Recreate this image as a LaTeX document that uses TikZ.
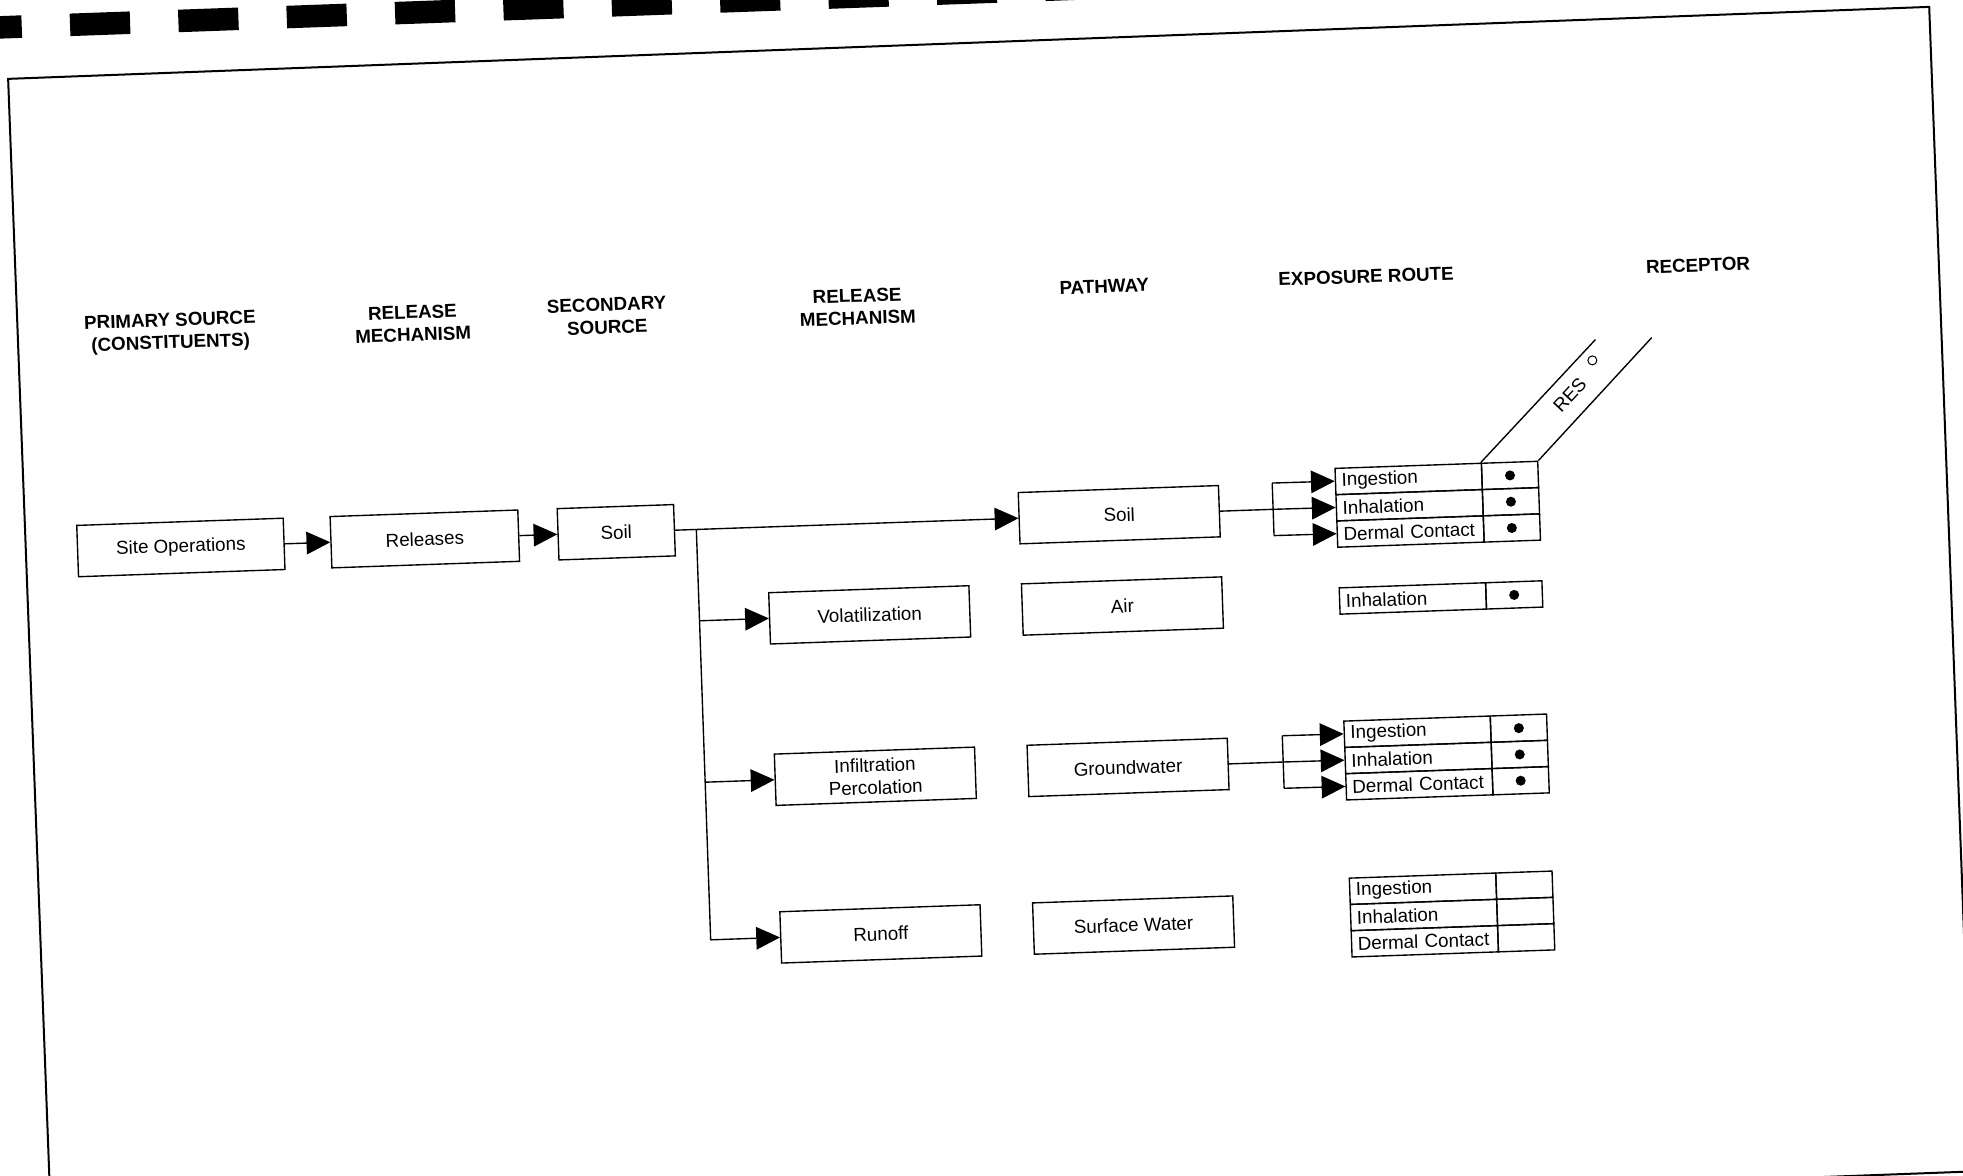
\documentclass[tikz,border=0pt]{standalone}
\usepackage{fontspec}
\setmainfont{Liberation Sans}
\usetikzlibrary{arrows.meta}
\begin{document}
\begin{tikzpicture}[x=1pt,y=-1pt,
  box/.style={draw, line width=1.1pt, minimum height=41pt, inner sep=2pt, font=\fontsize{15}{18}\selectfont, align=center},
  hdr/.style={font=\fontsize{15}{18}\selectfont\bfseries, align=center, inner sep=0pt},
  arr/.style={line width=1.1pt, -{Triangle[length=19pt,width=18pt]}},
  ln/.style={line width=1.1pt},
  lab/.style={draw, line width=1.1pt, anchor=north west, text width=107pt, inner xsep=5pt, inner ysep=0pt, minimum height=21pt, align=left, font=\fontsize{15}{18}\selectfont},
  dotc/.style={draw, line width=1.1pt, anchor=north west, minimum width=45pt, minimum height=21pt, inner sep=0pt},
  dotmark/.style={fill=black},
]
\useasboundingbox (0,0) rectangle (1568,939);
\clip (0,0) rectangle (1568,939);
% page frame
\draw[line width=1.6pt] (41.4,993) -- (6.5,63) -- (1541,5.5) -- (1575.9,935.7) -- cycle;
% heavy dashes at top
\draw[line width=18pt, dash pattern=on 48pt off 38.6pt, dash phase=77.2pt] (-40,23.3) -- (900,-10.5);

\begin{scope}[rotate around={2:(784,470)}, transform shape]
% headers
\node[hdr] (h1) at (143.6,243.4) {PRIMARY SOURCE\\(CONSTITUENTS)};
\node[hdr] (h2) at (337.4,242.7) {RELEASE\\MECHANISM};
\node[hdr] (h3) at (492.6,242.1) {SECONDARY\\SOURCE};
\node[hdr] (h4) at (692.8,242) {RELEASE\\MECHANISM};
\node[hdr] (h5) at (890.4,232.4) {PATHWAY};
\node[hdr] (h6) at (1099.7,231.7) {EXPOSURE ROUTE};
\node[hdr] (h7) at (1365,232) {RECEPTOR};

% boxes
\node[box, minimum width=165pt] (siteops) at (146,415) {Site Operations};
\node[box, minimum width=150pt] (releases) at (341,415) {Releases};
\node[box, minimum width=93pt] (soil1) at (494,415) {Soil};
\node[box, minimum width=160pt] (soil2) at (896,415) {Soil};
\node[box, minimum width=160pt] (vol) at (694,488) {Volatilization};
\node[box, minimum width=160pt] (air) at (896,488) {Air};
\node[box, minimum width=160pt] (inf) at (694,617) {Infiltration\\Percolation};
\node[box, minimum width=160pt] (gw) at (896,617) {Groundwater};
\node[box, minimum width=160pt] (run) at (694,743) {Runoff};
\node[box, minimum width=160pt] (sw) at (896,743) {Surface Water};

% exposure table 1
\node[lab] (t1a) at (1069,383.5) {Ingestion};
\node[lab] (t1b) at (1069,404.5) {Inhalation};
\node[lab] (t1c) at (1069,425.5) {Dermal Contact};
\node[dotc] (d1a) at (1186,383.5) {};
\node[dotc] (d1b) at (1186,404.5) {};
\node[dotc] (d1c) at (1186,425.5) {};
% exposure single row
\node[lab] (t2a) at (1069,479) {Inhalation};
\node[dotc] (d2a) at (1186,479) {};
% exposure table 3
\node[lab] (t3a) at (1069,585.5) {Ingestion};
\node[lab] (t3b) at (1069,606.5) {Inhalation};
\node[lab] (t3c) at (1069,627.5) {Dermal Contact};
\node[dotc] (d3a) at (1186,585.5) {};
\node[dotc] (d3b) at (1186,606.5) {};
\node[dotc] (d3c) at (1186,627.5) {};
% exposure table 4
\node[lab] (t4a) at (1069,711) {Ingestion};
\node[lab] (t4b) at (1069,732) {Inhalation};
\node[lab] (t4c) at (1069,753) {Dermal Contact};
\node[dotc] (d4a) at (1186,711) {};
\node[dotc] (d4b) at (1186,732) {};
\node[dotc] (d4c) at (1186,753) {};

% dots
\foreach \d in {d1a,d1b,d1c,d2a,d3a,d3b,d3c}
  \fill[dotmark] (\d) circle (4pt);

% receptor band
\coordinate (r1) at (1281,288.5);
\coordinate (r2) at (1326,288.5);
\draw[ln] (d1a.north west) -- (r1);
\draw[ln] (d1a.north east) -- (r2);
\node[font=\fontsize{15}{18}\selectfont, rotate=45, inner sep=0pt] (res) at (1259,332) {RES};
\coordinate (reso) at (1278,305);
\draw[line width=0.8pt] (reso) circle (3.6pt);

% main flow
\draw[arr] (siteops.east) -- (releases.west);
\draw[arr] (releases.east) -- (soil1.west);
\draw[arr] (soil1.east) -- (soil2.west);
\coordinate (bt) at (558,415);
\coordinate (bb) at (558,743);
\coordinate (bv) at (558,488);
\coordinate (bi) at (558,617);
\draw[ln] (bt) -- (bb);
\draw[arr] (bv) -- (vol);
\draw[arr] (bi) -- (inf);
\draw[arr] (bb) -- (run);

% pathway to exposure routes (soil)
\coordinate (j1) at (1019,415);
\coordinate (j1a) at (1019,394);
\coordinate (j1c) at (1019,436);
\draw[ln] (soil2.east) -- (j1);
\draw[ln] (j1a) -- (j1c);
\draw[arr] (j1a) -- (t1a);
\draw[arr] (j1) -- (t1b);
\draw[arr] (j1c) -- (t1c);

% pathway to exposure routes (groundwater)
\coordinate (j3) at (1020,617);
\coordinate (j3a) at (1020,596);
\coordinate (j3c) at (1020,638);
\draw[ln] (gw.east) -- (j3);
\draw[ln] (j3a) -- (j3c);
\draw[arr] (j3a) -- (t3a);
\draw[arr] (j3) -- (t3b);
\draw[arr] (j3c) -- (t3c);
\end{scope}
\end{tikzpicture}
\end{document}
